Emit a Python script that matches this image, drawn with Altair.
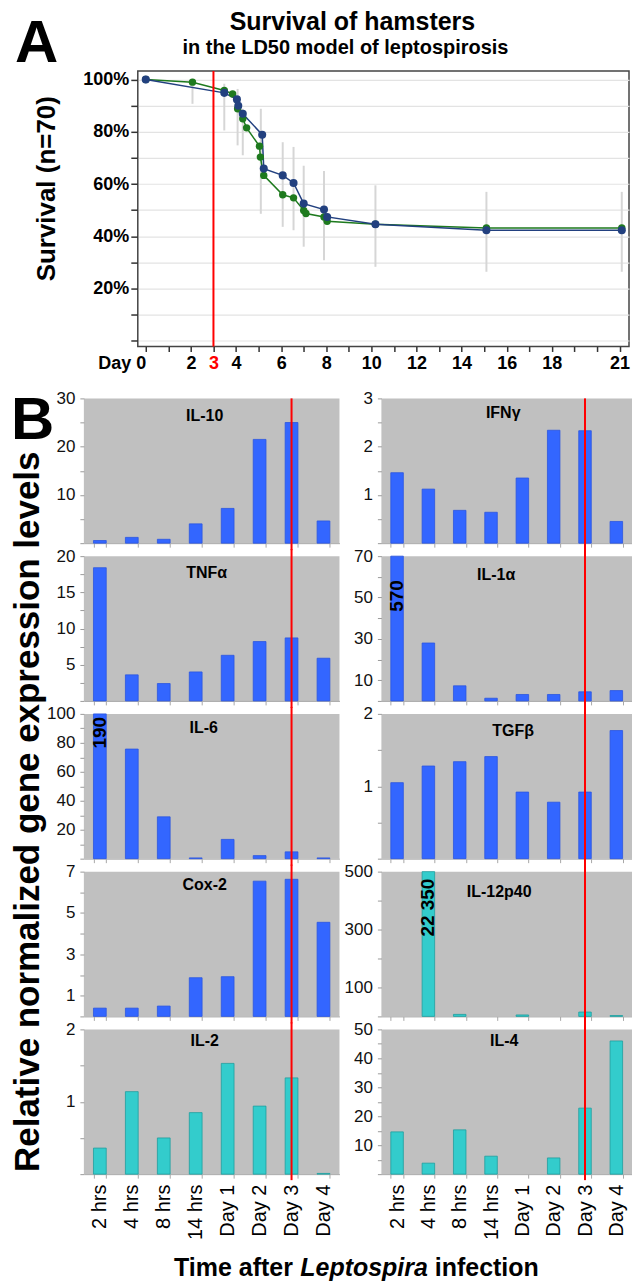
import altair as alt
import pandas as pd

FONT = "Liberation Sans"

# ---------------- Panel A: survival (day, fraction surviving) ----------------
blue_day = [0, 3.48, 4.04, 4.1, 4.3, 5.16, 5.23, 6.07, 6.55, 7.0, 7.9, 8.04, 10.18, 15.1, 21.1]
blue_surv = [1.0, 0.949, 0.924, 0.90, 0.869, 0.789, 0.659, 0.633, 0.604, 0.525, 0.502, 0.474, 0.446, 0.423, 0.423]
green_day = [0, 2.07, 3.48, 3.85, 4.07, 4.3, 4.47, 5.04, 5.08, 5.23, 6.07, 6.55, 7.0, 7.1, 7.9, 8.04, 10.18, 15.1, 21.1]
green_surv = [1.0, 0.99, 0.958, 0.945, 0.888, 0.85, 0.815, 0.745, 0.703, 0.633, 0.559, 0.547, 0.499, 0.487, 0.474, 0.457, 0.446, 0.432, 0.432]
err_day = [2.07, 3.48, 4.07, 4.3, 5.1, 6.07, 6.55, 7.0, 7.9, 10.18, 15.1, 21.1]
err_lo = [0.907, 0.805, 0.748, 0.71, 0.486, 0.436, 0.423, 0.36, 0.308, 0.283, 0.264, 0.264]
err_hi = [0.99, 0.984, 0.964, 0.888, 0.888, 0.76, 0.742, 0.67, 0.65, 0.595, 0.57, 0.57]
day_labels = [2, 3, 4, 6, 8, 10, 12, 14, 16, 18, 21]

# ---------------- Panel B: relative expression ----------------
times = ["2 hrs", "4 hrs", "8 hrs", "14 hrs", "Day 1", "Day 2", "Day 3", "Day 4"]
il10 = [0.55, 1.2, 0.8, 4.0, 7.2, 21.5, 25.0, 4.6]
ifng = [1.46, 1.12, 0.68, 0.64, 1.35, 2.34, 2.33, 0.45]
tnfa = [18.4, 3.6, 2.4, 4.0, 6.3, 8.2, 8.7, 5.9]
il1a = [570, 28, 7.3, 1.3, 3.1, 3.1, 4.4, 5.0]
il6 = [190, 75.7, 28.9, 0.5, 13.3, 2.1, 4.7, 0.5]
tgfb = [1.05, 1.28, 1.34, 1.41, 0.92, 0.78, 0.92, 1.77]
cox2 = [0.4, 0.4, 0.5, 1.87, 1.92, 6.54, 6.63, 4.55]
il12p40 = [0, 22350, 7, 0, 5, 0, 15, 3]
il2 = [0.36, 1.14, 0.50, 0.85, 1.53, 0.94, 1.33, 0.01]
il4 = [14.6, 3.8, 15.3, 6.2, 0, 5.6, 22.8, 46]

BLUE, BLUE_S = "#3366FF", "#2b56e0"
CYAN, CYAN_S = "#33CCCC", "#1f9e9e"
GREY = "#C0C0C0"
RED = "#FF0000"

A_W, A_H = 492, 276
LW, RW, PH = 256, 251, 145


def label(text, x, y, size, weight="bold", angle=0, align="center",
          baseline="alphabetic", style="normal", color="#000000"):
    return alt.Chart(pd.DataFrame({"t": [text]})).mark_text(
        font=FONT, fontSize=size, fontWeight=weight, fontStyle=style,
        angle=angle, align=align, baseline=baseline, color=color
    ).encode(text="t:N", x=alt.value(x), y=alt.value(y))


# ---------------- build panel A ----------------
sx = alt.Scale(domain=[-0.354, 21.42], nice=False, zero=False)
sy = alt.Scale(domain=[-0.022, 1.033], nice=False, zero=False)
lab_expr = ("datum.value == 0 ? 'Day 0' : (indexof(%s, datum.value) >= 0 ? datum.label : '')"
            % str(day_labels))
ax_x = alt.Axis(values=list(range(22)), labelExpr=lab_expr, title=None, grid=False,
                domain=False, tickSize=5, tickColor="#333333", tickWidth=1.5,
                labelFont=FONT, labelFontSize=18, labelFontWeight="bold", labelPadding=3,
                labelColor={"condition": {"test": "datum.value === 3", "value": RED}, "value": "#000000"},
                labelAlign={"condition": {"test": "datum.value === 0", "value": "right"}, "value": "center"})
ax_y = alt.Axis(values=[round(k / 10, 1) for k in range(11)],
                labelExpr="(round(datum.value*100) % 20 == 0 && datum.value > 0.05) ? format(datum.value, '.0%') : ''",
                title=None, grid=True, gridColor="#e3e3e3", gridWidth=1.2, domain=False,
                tickSize=7, tickColor="#333333", tickWidth=1.5,
                labelFont=FONT, labelFontSize=18, labelFontWeight="bold", labelPadding=2)

dfB = pd.DataFrame({"day": blue_day, "surv": blue_surv})
dfG = pd.DataFrame({"day": green_day, "surv": green_surv})
dfE = pd.DataFrame({"day": err_day, "lo": err_lo, "hi": err_hi})

XA = alt.X("day:Q", scale=sx, axis=ax_x)
YA = alt.Y("surv:Q", scale=sy, axis=ax_y)

err = alt.Chart(dfE).mark_rule(color="#d6d6d6", strokeWidth=2).encode(
    x=XA, y=alt.Y("lo:Q", scale=sy, axis=ax_y), y2="hi:Q")
gline = alt.Chart(dfG).mark_line(color="#1e7a1e", strokeWidth=1.5).encode(x=XA, y=YA)
bline = alt.Chart(dfB).mark_line(color="#22407f", strokeWidth=1.5).encode(x=XA, y=YA)
gpts = alt.Chart(dfG).mark_circle(color="#1e7a1e", size=55, opacity=1).encode(x=XA, y=YA)
bpts = alt.Chart(dfB).mark_circle(color="#22407f", size=65, opacity=1).encode(x=XA, y=YA)
redA = alt.Chart(pd.DataFrame({"day": [3]})).mark_rule(color=RED, strokeWidth=2).encode(
    x=XA, y=alt.value(0), y2=alt.value(A_H))

panelA = alt.layer(
    err, gline, bline, gpts, bpts, redA,
    label("Survival of hamsters", 215, -41, 25),
    label("in the LD50 model of leptospirosis", 208, -17, 20),
    label("A", -123, -9, 60, align="left"),
    label("Survival (n=70)", -91, 118, 26, angle=270, baseline="middle"),
).properties(width=A_W, height=A_H,
             view=alt.ViewBackground(fill="white", stroke="#444444", strokeWidth=1.5))

spacer = alt.Chart(pd.DataFrame({"a": [0]})).mark_point(opacity=0).encode(
    x=alt.value(0), y=alt.value(0)).properties(width=1, height=A_H)

rowA = alt.concat(spacer, panelA, columns=2, align="each", bounds="flush", spacing=53)

# ---------------- build panel B ----------------
panels = [
    dict(name="IL-10", vals=il10, cyan=False, ymax=30, labels=[10, 20, 30], step=5, tx=121, ty=18),
    dict(name="IFNγ", vals=ifng, cyan=False, ymax=3, labels=[1, 2, 3], step=0.5, tx=122, ty=15),
    dict(name="TNFα", vals=tnfa, cyan=False, ymax=20, labels=[5, 10, 15, 20], step=2.5, tx=123, ty=17),
    dict(name="IL-1α", vals=il1a, cyan=False, ymax=70, labels=[10, 30, 50, 70], step=10, tx=115, ty=19,
         big=("2 hrs", "570", 24)),
    dict(name="IL-6", vals=il6, cyan=False, ymax=100, labels=[20, 40, 60, 80, 100], step=10, tx=120, ty=14,
         big=("2 hrs", "190", 3)),
    dict(name="TGFβ", vals=tgfb, cyan=False, ymax=2, labels=[1, 2], step=0.5, tx=132, ty=17),
    dict(name="Cox-2", vals=cox2, cyan=False, ymax=7, labels=[1, 3, 5, 7], step=1, tx=121, ty=13),
    dict(name="IL-12p40", vals=il12p40, cyan=True, ymax=500, labels=[100, 300, 500], step=100, tx=118, ty=20,
         big=("4 hrs", "22 350", 7)),
    dict(name="IL-2", vals=il2, cyan=True, ymax=2, labels=[1, 2], step=0.5, tx=121, ty=12),
    dict(name="IL-4", vals=il4, cyan=True, ymax=50, labels=[10, 20, 30, 40, 50], step=5, tx=123, ty=12),
]

# Arial-bold advance widths (1/1000 em) for the mixed-style bottom title
AW = {"T": 611, "i": 278, "m": 889, "e": 556, " ": 278, "a": 556, "f": 333, "t": 333, "r": 389,
      "L": 611, "p": 611, "o": 611, "s": 556, "n": 611, "c": 556}


def tw(s, size):
    return sum(AW.get(ch, 556) for ch in s) * size / 1000.0


def make_panel(i, p):
    left = (i % 2 == 0)
    row = i // 2
    w = LW if left else RW
    last = (row == 4)
    df = pd.DataFrame({"t": times, "v": p["vals"]})
    nstep = int(round(p["ymax"] / p["step"]))
    tvals = [round(k * p["step"], 4) for k in range(nstep + 1)]
    yexpr = "indexof(%s, datum.value) >= 0 ? format(datum.value, '~g') : ''" % str(p["labels"])
    ax_yb = alt.Axis(values=tvals, labelExpr=yexpr, title=None, grid=False, domain=False,
                     tickSize=4, tickColor="#9a9a9a", tickWidth=1, labelFont=FONT, labelFontSize=17,
                     labelColor="#111111", labelPadding=5)
    if last:
        ax_xb = alt.Axis(title=None, domain=True, domainColor="#a8a8a8", ticks=True, tickBand="extent",
                         tickSize=4, tickColor="#a8a8a8", labelAngle=270, labelAlign="right",
                         labelBaseline="middle", labelFont=FONT, labelFontSize=20, labelColor="#000000",
                         labelPadding=6)
    else:
        ax_xb = alt.Axis(title=None, domain=True, domainColor="#a8a8a8", ticks=True, tickBand="extent",
                         tickSize=4, tickColor="#a8a8a8", labels=False)
    xs = alt.Scale(domain=times, paddingInner=0.6, paddingOuter=0.3)
    XB = alt.X("t:N", sort=times, scale=xs, axis=ax_xb)
    color, stroke = (CYAN, CYAN_S) if p["cyan"] else (BLUE, BLUE_S)
    bars = alt.Chart(df).transform_filter("datum.v > 0").mark_bar(
        color=color, stroke=stroke, strokeWidth=0.8).encode(
        x=XB,
        y=alt.Y("v:Q", scale=alt.Scale(domain=[0, p["ymax"]], nice=False, zero=True, clamp=True), axis=ax_yb),
    )
    top = 0 if row == 0 else -7
    bottom = PH + 6 if last else PH + 7
    red = alt.Chart(pd.DataFrame({"t": ["Day 3"]})).mark_rule(color=RED, strokeWidth=2).encode(
        x=XB, y=alt.value(top), y2=alt.value(bottom))
    layers = [bars]
    if "big" in p:
        bt, btxt, boff = p["big"]
        layers.append(alt.Chart(pd.DataFrame({"t": [bt], "lab": [btxt]})).mark_text(
            font=FONT, fontSize=19, fontWeight="bold", angle=270, align="right", baseline="middle",
            color="#000000").encode(x=XB, y=alt.value(boff), text="lab:N"))
    layers.append(red)
    layers.append(label(p["name"], p["tx"], p["ty"], 16, baseline="middle"))
    if i == 0:
        layers.append(label("B", -73, 41, 60, align="left"))
    if i == 4:
        layers.append(label("Relative normalized gene expression levels", -56, 98, 35,
                            angle=270, baseline="middle"))
    if i == 8:
        fs = 25
        parts = ["Time after ", "Leptospira", " infection"]
        widths = [tw(s, fs) for s in parts]
        cx = 273
        x0 = cx - sum(widths) / 2.0
        yb = 247
        layers.append(label("Time after", x0, yb, fs, align="left"))
        layers.append(label("Leptospira", x0 + widths[0], yb, fs, align="left", style="italic"))
        layers.append(label("infection", x0 + widths[0] + widths[1] + tw(" ", fs), yb, fs, align="left"))
    return alt.layer(*layers).properties(
        width=w, height=PH, view=alt.ViewBackground(fill=GREY, stroke=None))


gridB = alt.concat(*[make_panel(i, p) for i, p in enumerate(panels)], columns=2, align="each",
                   bounds="flush", spacing={"row": 13, "column": 42})

chart = alt.vconcat(rowA, gridB, spacing=16).properties(
    padding={"left": 2, "top": 0, "right": 0, "bottom": 0}, background="white"
).configure_view(stroke=None).configure_axis(labelFont=FONT, titleFont=FONT)

chart.save("out.html", embed_options={"renderer": "svg", "actions": False})
